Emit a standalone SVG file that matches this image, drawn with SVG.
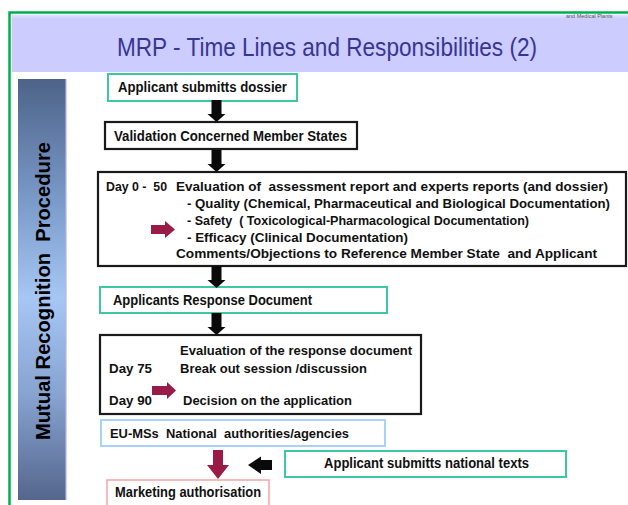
<svg xmlns="http://www.w3.org/2000/svg" width="628" height="505" viewBox="0 0 628 505">
  <style>
    text { font-family: "Liberation Sans", Arial, sans-serif; fill: #111; white-space: pre; }
    .b { font-weight: bold; font-size: 14px; }
    .s { font-weight: bold; font-size: 13.5px; }
    .teal { fill: #fff; stroke: #3CC8A0; stroke-width: 2; }
    .blk { fill: #fff; stroke: #1a1a1a; stroke-width: 2.2; }
    .title { font-size: 26px; fill: #363694; }
    .side { font-weight: bold; font-size: 20px; fill: #000; }
    .black-arrow { fill: #0a0a0a; }
    .red-arrow { fill: #9B1B47; }
  </style>
  <defs>
    <linearGradient id="sideFill" x1="0" y1="0" x2="0" y2="1">
      <stop offset="0" stop-color="#4D6388"/>
      <stop offset="0.3" stop-color="#7C9CCB"/>
      <stop offset="0.52" stop-color="#A6C6F4"/>
      <stop offset="0.75" stop-color="#87A3D0"/>
      <stop offset="1" stop-color="#54668D"/>
    </linearGradient>
    <linearGradient id="bandFill" x1="0" y1="0" x2="0" y2="1">
      <stop offset="0" stop-color="#E4E4FF"/>
      <stop offset="0.08" stop-color="#CCCCFF"/>
      <stop offset="1" stop-color="#CCCCFF"/>
    </linearGradient>
    <!-- block arrow pointing down, top centre at origin -->
    <path id="downArrow" d="M-5,0 H5 V14 H9 L0,22 L-9,14 H-5 Z"/>
  </defs>

  <!-- slide frame -->
  <rect x="0" y="0" width="628" height="505" fill="#fff"/>
  <path d="M9.5,505 V12.5 H628" fill="none" stroke="#00B050" stroke-width="2.5"/>

  <!-- title band -->
  <g id="title">
    <rect x="12" y="14.5" width="616" height="57.5" fill="url(#bandFill)"/>
    <text x="566" y="18" font-size="5.5" style="fill:#555">and Medical Plants</text>
    <text class="title" x="117" y="56" textLength="420" lengthAdjust="spacingAndGlyphs">MRP - Time Lines and Responsibilities (2)</text>
  </g>

  <!-- side bar -->
  <g id="sidebar">
    <rect x="18" y="79" width="48" height="421" fill="url(#sideFill)"/>
    <line x1="66" y1="79" x2="66" y2="500" stroke="#B4B4EC" stroke-width="1.2"/>
    <text class="side" transform="translate(50,291) rotate(-90)" text-anchor="middle" textLength="298" lengthAdjust="spacingAndGlyphs">Mutual Recognition  Procedure</text>
  </g>

  <g id="applicant-submits-dossier">
    <rect class="teal" x="108" y="74" width="189" height="27"/>
    <text class="b" x="118" y="92" textLength="169" lengthAdjust="spacingAndGlyphs">Applicant submitts dossier</text>
  </g>

  <g id="validation">
    <rect class="blk" x="105" y="122" width="252" height="27"/>
    <text class="b" x="114" y="141" textLength="233" lengthAdjust="spacingAndGlyphs">Validation Concerned Member States</text>
  </g>

  <g id="evaluation-day0-50">
    <rect class="blk" x="98" y="172" width="528" height="94"/>
    <text class="s" x="106" y="191" textLength="61" lengthAdjust="spacingAndGlyphs">Day 0 -  50</text>
    <text class="s" x="176" y="191" textLength="432" lengthAdjust="spacingAndGlyphs">Evaluation of  assessment report and experts reports (and dossier)</text>
    <text class="s" x="187" y="207.5" textLength="423" lengthAdjust="spacingAndGlyphs">- Quality (Chemical, Pharmaceutical and Biological Documentation)</text>
    <text class="s" x="187" y="224.5" textLength="342" lengthAdjust="spacingAndGlyphs">- Safety  ( Toxicological-Pharmacological Documentation)</text>
    <text class="s" x="187" y="241.5" textLength="221" lengthAdjust="spacingAndGlyphs">- Efficacy (Clinical Documentation)</text>
    <text class="s" x="176" y="258" textLength="421" lengthAdjust="spacingAndGlyphs">Comments/Objections to Reference Member State  and Applicant</text>
  </g>

  <g id="applicants-response">
    <rect class="teal" x="100" y="287" width="287" height="26"/>
    <text class="b" x="113" y="305" textLength="199" lengthAdjust="spacingAndGlyphs">Applicants Response Document</text>
  </g>

  <g id="evaluation-day75-90">
    <rect class="blk" x="100" y="335" width="321" height="79"/>
    <text class="s" x="180" y="355" textLength="232" lengthAdjust="spacingAndGlyphs">Evaluation of the response document</text>
    <text class="s" x="109" y="373" textLength="43" lengthAdjust="spacingAndGlyphs">Day 75</text>
    <text class="s" x="180" y="373" textLength="187" lengthAdjust="spacingAndGlyphs">Break out session /discussion</text>
    <text class="s" x="109" y="405" textLength="43" lengthAdjust="spacingAndGlyphs">Day 90</text>
    <text class="s" x="183" y="405" textLength="169" lengthAdjust="spacingAndGlyphs">Decision on the application</text>
  </g>

  <g id="national-authorities">
    <rect x="101" y="420" width="284" height="26" fill="#fff" stroke="#A9D2FA" stroke-width="2"/>
    <text class="s" x="110" y="438" textLength="239" lengthAdjust="spacingAndGlyphs">EU-MSs  National  authorities/agencies</text>
  </g>

  <g id="national-texts">
    <rect class="teal" x="285" y="451" width="281" height="26"/>
    <text class="b" x="324" y="468" textLength="205" lengthAdjust="spacingAndGlyphs">Applicant submitts national texts</text>
  </g>

  <g id="marketing-authorisation">
    <rect x="107" y="480" width="162" height="30" fill="#fff" stroke="#F2A5A5" stroke-width="1.5"/>
    <text class="b" x="115" y="497" textLength="146" lengthAdjust="spacingAndGlyphs">Marketing authorisation</text>
  </g>

  <!-- connectors, drawn over the boxes so the pointer arrows inside them show -->
  <g id="connectors">
    <use href="#downArrow" class="black-arrow" transform="translate(216.5,100)"/>
    <use href="#downArrow" class="black-arrow" transform="translate(216.5,150)"/>
    <use href="#downArrow" class="black-arrow" transform="translate(216.5,266)"/>
    <use href="#downArrow" class="black-arrow" transform="translate(216.5,313)"/>
    <path class="red-arrow" d="M213,450 H223 V465 H229 L218,479 L207,465 H213 Z"/>
    <path class="black-arrow" d="M272,460 V470 H261 V474 L248,465 L261,456.5 V460 Z"/>
    <path class="red-arrow" d="M151,225 H165 V221 L175,229.5 L165,238 V234 H151 Z"/>
    <path class="red-arrow" d="M152,386 H167 V382 L176,390.5 L167,399 V395 H152 Z"/>
  </g>
</svg>
